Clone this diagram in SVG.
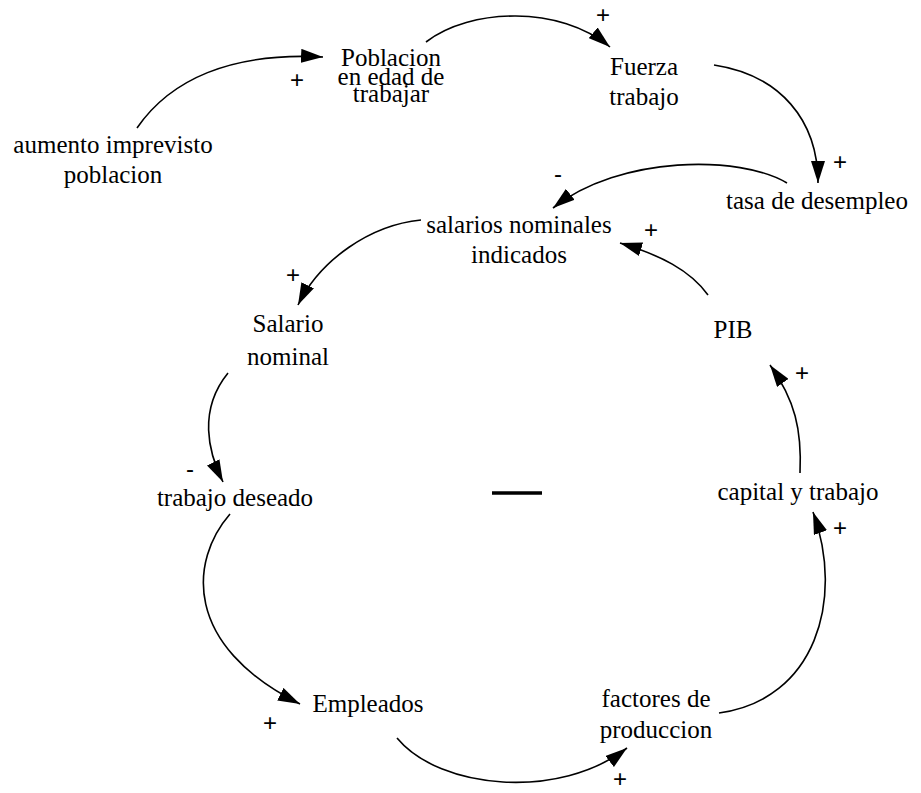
<svg xmlns="http://www.w3.org/2000/svg" width="921" height="793" viewBox="0 0 921 793">
<style>
.n{font-size:25px;fill:#000;text-anchor:middle}
.p{font-size:24px;fill:#000;text-anchor:middle}
.c{fill:none;stroke:#000;stroke-width:1.6;marker-end:url(#ah)}
</style>
<defs>
<marker id="ah" viewBox="0 0 22 14" refX="22" refY="7" markerWidth="22" markerHeight="14" markerUnits="userSpaceOnUse" orient="auto">
<path d="M0,0 L22,7 L0,14 z" fill="#000"/>
</marker>
</defs>
<rect width="921" height="793" fill="#fff"/>
<g id="connectors">
<path class="c" d="M137,128 C170,80 230,52 323,57"/>
<path class="c" d="M426,42 C470,8 560,5 610,47"/>
<path class="c" d="M714,65 C780,75 818,120 818,183"/>
<path class="c" d="M787,183 C740,155 620,155 553,208"/>
<path class="c" d="M708,295 C690,270 660,255 620,243"/>
<path class="c" d="M421,220 C370,225 320,260 298,305"/>
<path class="c" d="M228,373 C198,410 208,452 223,482"/>
<path class="c" d="M230,514 C190,560 182,645 300,704"/>
<path class="c" d="M397,738 C440,790 560,800 627,748"/>
<path class="c" d="M719,713 C815,700 845,600 813,512"/>
<path class="c" d="M800,473 C802,430 795,400 770,365"/>
</g>
<g id="polarities" font-family="Liberation Sans, Arial, sans-serif">
<text class="p" x="297" y="88">+</text>
<text class="p" x="603" y="23">+</text>
<text class="p" x="840" y="170">+</text>
<text class="p" x="558" y="182">-</text>
<text class="p" x="651" y="238">+</text>
<text class="p" x="293" y="283">+</text>
<text class="p" x="190" y="477">-</text>
<text class="p" x="270" y="731">+</text>
<text class="p" x="620" y="787">+</text>
<text class="p" x="840" y="536">+</text>
<text class="p" x="802" y="381">+</text>
</g>
<g id="loop">
<line x1="492" y1="493" x2="542" y2="493" stroke="#000" stroke-width="3.5"/>
</g>
<g id="nodes" font-family="Liberation Serif, Times New Roman, serif">
<g id="aumento"><text class="n" x="113" y="153">aumento imprevisto</text><text class="n" x="113" y="183">poblacion</text></g>
<g id="poblacion"><text class="n" x="391" y="66">Poblacion</text><text class="n" x="391" y="85">en edad de</text><text class="n" x="391" y="102">trabajar</text></g>
<g id="fuerza"><text class="n" x="644" y="75">Fuerza</text><text class="n" x="644" y="105">trabajo</text></g>
<g id="tasa"><text class="n" x="817" y="209">tasa de desempleo</text></g>
<g id="salarios"><text class="n" x="519" y="233">salarios nominales</text><text class="n" x="519" y="263">indicados</text></g>
<g id="salario"><text class="n" x="288" y="332">Salario</text><text class="n" x="288" y="365">nominal</text></g>
<g id="trabajo"><text class="n" x="235" y="506">trabajo deseado</text></g>
<g id="empleados"><text class="n" x="368" y="712">Empleados</text></g>
<g id="factores"><text class="n" x="656" y="707">factores de</text><text class="n" x="656" y="738">produccion</text></g>
<g id="capital"><text class="n" x="798" y="500">capital y trabajo</text></g>
<g id="pib"><text class="n" x="733" y="338">PIB</text></g>
</g>
</svg>
